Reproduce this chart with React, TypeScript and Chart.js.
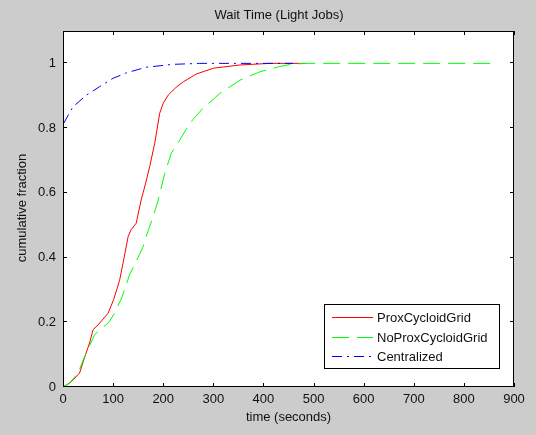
import React, { useEffect, useRef } from "react";
import { Chart, registerables } from "chart.js";

Chart.register(...registerables);

const chartTitle = "Wait Time (Light Jobs)";
const xLabel = "time (seconds)";
const yLabel = "cumulative fraction";
const xTicks = [0, 100, 200, 300, 400, 500, 600, 700, 800, 900];
const yTicks = [0, 0.2, 0.4, 0.6, 0.8, 1];
const seriesNames = ["ProxCycloidGrid", "NoProxCycloidGrid", "Centralized"];

const proxTime = [0, 13, 22, 33, 42, 53, 60, 70, 80, 90, 101, 113, 122, 130, 136, 146, 156, 165, 173, 183, 193, 200, 210, 225, 240, 266, 300, 353, 413, 484];
const proxFrac = [0, 0.012, 0.025, 0.043, 0.086, 0.136, 0.177, 0.192, 0.21, 0.228, 0.27, 0.33, 0.4, 0.465, 0.486, 0.506, 0.578, 0.63, 0.681, 0.753, 0.846, 0.877, 0.902, 0.925, 0.943, 0.967, 0.985, 0.995, 1.0, 1.0];

const noProxTime = [0, 13, 30, 43, 63, 73, 90, 103, 117, 133, 146, 160, 166, 180, 190, 203, 216, 233, 253, 279, 313, 353, 393, 432, 458, 490, 858];
const noProxFrac = [0, 0.012, 0.043, 0.094, 0.161, 0.177, 0.197, 0.228, 0.275, 0.347, 0.388, 0.434, 0.465, 0.527, 0.578, 0.66, 0.722, 0.763, 0.815, 0.861, 0.907, 0.948, 0.974, 0.99, 0.998, 1.0, 1.0];

const centralTime = [0, 0, 5, 20, 47, 73, 100, 127, 166, 220, 273, 459];
const centralFrac = [0, 0.81, 0.825, 0.866, 0.902, 0.928, 0.954, 0.971, 0.988, 0.997, 1.0, 1.0];

const colors = ["#ff0000", "#00ff00", "#0000ff"];
const dashes: number[][] = [[], [17, 8], [10, 5, 2, 5]];

const FONT = '"Liberation Sans", Arial, Helvetica, sans-serif';

function pts(xs: number[], ys: number[]) {
  return xs.map((x, i) => ({ x, y: ys[i] }));
}

const decorPlugin = {
  id: "decor",
  beforeDraw(chart: any) {
    const { ctx, chartArea: a } = chart;
    ctx.save();
    ctx.fillStyle = "#cccccc";
    ctx.fillRect(0, 0, chart.width, chart.height);
    ctx.fillStyle = "#ffffff";
    ctx.fillRect(a.left, a.top, a.right - a.left, a.bottom - a.top);
    ctx.restore();
  },
  afterDraw(chart: any) {
    const { ctx, chartArea: a, scales } = chart;
    const xs = scales.x;
    const ys = scales.y;
    ctx.save();
    // box
    ctx.strokeStyle = "#000";
    ctx.lineWidth = 1;
    ctx.strokeRect(Math.round(a.left) + 0.5, Math.round(a.top) + 0.5, Math.round(a.right - a.left) - 1, Math.round(a.bottom - a.top) - 1);
    // inward ticks
    const tl = 4;
    ctx.beginPath();
    xTicks.forEach((v) => {
      const px = Math.round(xs.getPixelForValue(v)) + 0.5;
      ctx.moveTo(px, a.bottom);
      ctx.lineTo(px, a.bottom - tl);
      ctx.moveTo(px, a.top);
      ctx.lineTo(px, a.top + tl);
    });
    yTicks.forEach((v) => {
      const py = Math.round(ys.getPixelForValue(v)) - 0.5;
      ctx.moveTo(a.left, py);
      ctx.lineTo(a.left + tl, py);
      ctx.moveTo(a.right, py);
      ctx.lineTo(a.right - tl, py);
    });
    ctx.stroke();

    // titles
    ctx.fillStyle = "#111";
    ctx.font = `13px ${FONT}`;
    ctx.textAlign = "center";
    ctx.textBaseline = "middle";
    ctx.fillText(chartTitle, 279, 15);
    ctx.fillText(xLabel, (a.left + a.right) / 2, 417);
    ctx.save();
    ctx.translate(22, 208);
    ctx.rotate(-Math.PI / 2);
    ctx.fillText(yLabel, 0, 0);
    ctx.restore();

    // legend
    const lx = 324, ly = 304, lw = 175, lh = 64;
    ctx.fillStyle = "#fff";
    ctx.fillRect(lx, ly, lw, lh);
    ctx.strokeStyle = "#000";
    ctx.strokeRect(lx + 0.5, ly + 0.5, lw, lh);
    const rows = [317, 337, 356];
    seriesNames.forEach((name, i) => {
      ctx.strokeStyle = colors[i];
      ctx.lineWidth = 1;
      ctx.setLineDash(dashes[i]);
      ctx.beginPath();
      ctx.moveTo(332, rows[i] + 0.5);
      ctx.lineTo(373, rows[i] + 0.5);
      ctx.stroke();
      ctx.setLineDash([]);
      ctx.fillStyle = "#111";
      ctx.textAlign = "left";
      ctx.fillText(name, 377, rows[i] + 1);
    });
    ctx.restore();
  },
};

export default function App() {
  const ref = useRef<HTMLCanvasElement | null>(null);
  useEffect(() => {
    document.body.style.margin = "0";
    const canvas = ref.current!;
    const chart = new Chart(canvas, {
      type: "line",
      data: {
        datasets: [
          { label: seriesNames[0], data: pts(proxTime, proxFrac), borderColor: colors[0], borderDash: dashes[0], order: 3 },
          { label: seriesNames[1], data: pts(noProxTime, noProxFrac), borderColor: colors[1], borderDash: dashes[1], order: 2 },
          { label: seriesNames[2], data: pts(centralTime, centralFrac), borderColor: colors[2], borderDash: dashes[2], order: 1 },
        ].map((d) => ({ ...d, borderWidth: 1, pointRadius: 0, tension: 0, fill: false })),
      },
      options: {
        animation: false,
        responsive: false,
        devicePixelRatio: 1,
        layout: { padding: { top: 31, right: 22, left: 0, bottom: 0 } },
        plugins: { legend: { display: false }, title: { display: false }, tooltip: { enabled: false } },
        scales: {
          x: {
            type: "linear",
            min: 0,
            max: 900,
            afterFit: (s: any) => { s.height = 48; },
            afterBuildTicks: (s: any) => { s.ticks = xTicks.map((v) => ({ value: v })); },
            grid: { display: false, drawTicks: false },
            border: { display: false },
            ticks: { padding: 5, color: "#111", font: { family: FONT, size: 13 }, maxRotation: 0, autoSkip: false },
          },
          y: {
            type: "linear",
            min: 0,
            max: 1.1,
            afterFit: (s: any) => { s.width = 63; },
            afterBuildTicks: (s: any) => { s.ticks = yTicks.map((v) => ({ value: v })); },
            grid: { display: false, drawTicks: false },
            border: { display: false },
            ticks: {
              padding: 7,
              color: "#111",
              font: { family: FONT, size: 13 },
              autoSkip: false,
              callback: (v: any) => String(Math.round(Number(v) * 10) / 10),
            },
          },
        },
      } as any,
      plugins: [decorPlugin],
    });
    return () => chart.destroy();
  }, []);
  return <canvas ref={ref} width={536} height={435} style={{ display: "block" }} />;
}
